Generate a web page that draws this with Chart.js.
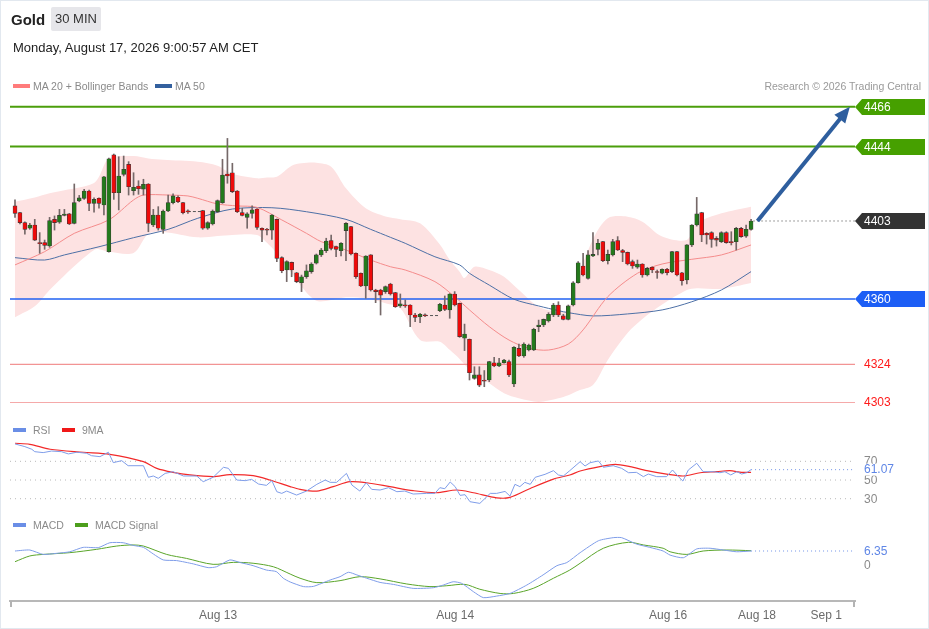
<!DOCTYPE html>
<html>
<head>
<meta charset="utf-8">
<script src="https://cdn.jsdelivr.net/npm/chart.js@4.4.1/dist/chart.umd.min.js"></script>
<style>
  body { margin: 0; background: #fff; font-family: "Liberation Sans", Arial, sans-serif; }
  #wrap { position: relative; width: 929px; height: 629px; overflow: hidden; }
  #frame { position: absolute; left: 0; top: 0; width: 927px; height: 627px; border: 1px solid #e2e8ef; pointer-events: none; }
  #chart { position: absolute; left: 0; top: 0; }
  .t { position: absolute; white-space: nowrap; line-height: 1; }
  .sw { position: absolute; height: 4px; }
  .leg { font-size: 10.5px; color: #8a8a8a; }
</style>
</head>
<body>
<div id="wrap">
  <canvas id="chart" width="929" height="629"></canvas>
  <div class="t" style="left:11px;top:12px;font-size:15px;font-weight:bold;color:#222">Gold</div>
  <div class="t" style="left:51px;top:7px;width:50px;height:24px;line-height:24px;text-align:center;background:#e6e6ea;font-size:13px;color:#333;border-radius:2px">30 MIN</div>
  <div class="t" style="left:13px;top:41px;font-size:13px;color:#222">Monday, August 17, 2026 9:00:57 AM CET</div>

  <div class="sw" style="left:13px;top:84px;width:17px;background:#ff7b7b"></div>
  <div class="t leg" style="left:33px;top:81px">MA 20 + Bollinger Bands</div>
  <div class="sw" style="left:155px;top:84px;width:17px;background:#33609e"></div>
  <div class="t leg" style="left:175px;top:81px">MA 50</div>
  <div class="t leg" style="right:8px;top:81px;color:#9a9a9a">Research © 2026 Trading Central</div>

  <div class="sw" style="left:13px;top:428px;width:13px;background:#6a8ee6"></div>
  <div class="t leg" style="left:33px;top:425px">RSI</div>
  <div class="sw" style="left:62px;top:428px;width:13px;background:#f01818"></div>
  <div class="t leg" style="left:82px;top:425px">9MA</div>

  <div class="sw" style="left:13px;top:523px;width:13px;background:#6a8ee6"></div>
  <div class="t leg" style="left:33px;top:520px">MACD</div>
  <div class="sw" style="left:75px;top:523px;width:13px;background:#4c9e1c"></div>
  <div class="t leg" style="left:95px;top:520px">MACD Signal</div>
  <div id="frame"></div>
</div>
<script>
// --- DATA (30 min candles, slot index = half hour since start) ---
const opens = [4411.3,4407.6,4402.1,4399.0,4400.8,4390.7,4391.1,4389.2,4403.9,4402.3,4406.1,4406.9,4401.7,4414.0,4415.5,4419.5,4412.7,4415.5,4411.8,4386.1,
  4439.4,4418.6,4428.7,4434.2,4419.7,4422.3,4420.6,4423.4,4400.8,4406.3,4398.4,4408.5,4413.1,4416.1,4413.1,4408.5,null,null,4408.7,4399.0,
  4401.4,4408.1,4413.1,4428.9,4429.6,4419.5,4407.6,4405.0,4407.2,4409.6,4399.0,4398.4,4398.0,4403.9,4382.8,4376.0,4380.2,4374.5,4369.0,4372.3,
  4375.1,4379.7,4384.3,4386.6,4392.2,4388.9,4386.6,4397.7,4399.9,4385.2,4374.2,4367.2,4384.3,4365.0,4365.0,4364.1,4368.3,4363.5,4356.2,4356.8,
  4356.7,4351.2,4350.3,4351.2,null,null,4353.6,4356.7,4354.0,4362.8,4357.6,4338.4,4337.8,4316.3,4318.2,4315.4,4315.4,4324.9,4323.1,4324.9,
  4325.5,4313.2,4332.8,4328.6,4331.9,4331.9,4344.8,4345.7,4347.9,4351.2,4356.7,4350.7,4348.8,4356.7,4369.0,4378.2,4371.4,4383.7,4387.4,4391.6,
  4381.1,4384.3,4392.2,4386.7,4385.7,4380.6,4377.5,4379.3,4373.3,4377.5,4375.1,4374.2,4376.4,4375.1,4386.1,4374.5,4370.5,4389.8,4400.8,4407.6,
  4396.2,4396.6,4393.4,4391.6,4396.6,4391.6,4391.6,4398.9,4394.7,4398.4];
const highs = [4414.6,4407.8,4402.6,4401.7,4403.9,4396.6,4392.5,4405.0,4405.8,4409.4,4409.4,4407.2,4423.4,4417.1,4420.5,4420.0,4415.8,4415.8,4427.6,4437.6,
  4439.9,4438.4,4438.8,4435.7,4429.6,4425.2,4426.0,4423.6,4409.4,4410.9,4409.1,4417.3,4417.9,4416.8,4413.3,4409.1,null,null,4408.9,4402.6,
  4409.1,4414.6,4437.0,4448.5,4434.8,4419.8,4410.0,4407.6,4411.3,4409.8,4399.2,4399.0,4406.5,4404.1,4383.3,4381.1,4380.4,4374.7,4373.2,4378.8,
  4380.0,4384.8,4387.9,4393.5,4395.3,4389.2,4391.1,4402.1,4400.1,4385.4,4374.4,4383.9,4384.5,4365.4,4365.4,4367.2,4368.7,4363.7,4362.8,4359.5,
  4356.9,4352.1,4352.1,4351.8,null,null,4357.6,4361.7,4363.0,4364.1,4357.8,4346.2,4338.0,4322.7,4322.7,4320.6,4325.7,4327.9,4327.3,4326.8,
  4326.4,4333.8,4335.2,4335.9,4335.2,4343.9,4348.4,4349.0,4352.5,4357.6,4358.5,4351.6,4356.7,4369.6,4380.6,4385.2,4386.7,4396.6,4392.9,4391.8,
  4387.0,4392.9,4394.4,4387.4,4385.9,4381.5,4381.5,4379.5,4377.5,4377.8,4376.0,4376.6,4376.9,4386.3,4386.3,4374.7,4390.0,4401.0,4416.0,4407.8,
  4396.6,4397.1,4394.4,4397.1,4397.1,4397.1,4399.5,4399.5,4400.8,4403.9];
const lows = [4405.0,4401.4,4395.8,4398.4,4392.2,4385.2,4387.4,4388.5,4398.0,4401.7,4405.8,4401.0,4401.4,4413.6,4414.9,4408.7,4407.8,4410.0,4406.3,4385.8,
  4414.9,4409.1,4427.8,4417.3,4417.3,4417.7,4417.3,4397.1,4399.9,4398.0,4396.2,4408.1,4412.4,4413.1,4406.9,4407.2,null,null,4398.4,4398.4,
  4400.8,4407.6,4412.7,4423.8,4418.6,4407.6,4405.8,4399.0,4404.5,4398.4,4391.6,4395.3,4392.9,4380.6,4374.5,4369.6,4372.3,4369.0,4364.1,4371.4,
  4374.2,4379.3,4383.4,4385.6,4387.0,4383.4,4383.7,4381.1,4384.3,4371.4,4366.8,4360.4,4364.4,4358.0,4351.2,4363.1,4362.2,4355.4,4355.4,4355.4,
  4344.8,4347.5,4347.0,4350.3,null,null,4353.0,4353.6,4349.4,4356.2,4338.9,4331.6,4315.4,4315.8,4311.7,4311.7,4314.5,4322.7,4322.7,4324.6,
  4317.2,4311.7,4328.3,4327.9,4331.4,4331.6,4342.0,4344.8,4347.3,4350.3,4350.3,4348.5,4348.5,4356.2,4368.7,4372.7,4370.9,4383.3,4384.3,4380.6,
  4379.3,4383.7,4386.7,4380.6,4378.8,4376.9,4376.9,4372.0,4372.7,4374.5,4371.4,4373.8,4373.3,4374.5,4372.7,4367.7,4368.3,4388.9,4400.2,4391.6,
  4390.3,4388.5,4389.2,4391.1,4390.7,4389.8,4387.0,4394.0,4394.0,4398.0];
const closes = [4407.2,4402.1,4398.4,4400.8,4392.5,4390.5,4389.6,4403.2,4402.1,4406.1,4406.8,4401.4,4413.1,4415.7,4419.5,4412.7,4414.9,4412.7,4427.4,4437.3,
  4418.6,4427.8,4431.5,4421.9,4421.6,4420.8,4423.2,4401.7,4406.3,4399.0,4408.5,4413.1,4416.8,4413.6,4407.6,4408.0,null,null,4399.0,4402.1,
  4408.5,4414.2,4428.3,4427.8,4419.2,4408.1,4406.1,4406.9,4409.1,4399.5,4398.0,4397.9,4406.3,4382.4,4375.6,4380.6,4376.0,4369.6,4372.3,4375.6,
  4379.3,4384.3,4387.0,4392.0,4387.9,4387.4,4390.7,4401.7,4384.8,4372.3,4367.2,4383.7,4365.0,4364.1,4362.2,4366.8,4362.8,4355.8,4357.3,4356.2,
  4351.2,4349.9,4351.6,4350.8,null,null,4357.1,4354.3,4362.8,4356.7,4339.3,4340.7,4319.4,4318.2,4312.6,4314.8,4325.5,4323.1,4324.9,4326.4,
  4318.2,4333.4,4328.6,4335.2,4334.7,4343.3,4345.7,4348.8,4351.6,4356.7,4351.2,4348.8,4356.2,4369.0,4380.0,4373.3,4384.3,4384.6,4390.7,4381.1,
  4384.6,4391.6,4387.0,4385.7,4379.3,4378.2,4379.3,4373.3,4376.9,4376.0,4374.6,4376.4,4374.5,4386.1,4373.3,4370.1,4389.8,4400.8,4406.9,4395.3,
  4395.3,4392.9,4392.5,4396.6,4391.1,4391.1,4398.9,4394.4,4398.4,4403.0];

// session breaks drawn as dashed connectors
const gapFrom = [35, 83];
const gapTo = [38, 86];
const gapPrice = [4408.2, 4350.9];

// Bollinger bands (20) read at sample slots
const bbSlots = [0,4,7,10,13,16,17,19,24,27,30,37,41,44,49,51,53,56,58,61,64,67,71,75,78,82,86,88,90,91,93,96,99,102,106,110,112,114,117,120,124,127,131,136,138,143,149];
const bbUpper = [4413.6,4416,4418.3,4420,4421.5,4424,4427.4,4437.5,4438.8,4437.5,4436.8,4435.7,4433.5,4429,4426.5,4427,4427.4,4433.5,4434.8,4435.1,4432.9,4421,4410,4405.5,4404,4401.7,4390,4381.5,4375.1,4371.6,4377.8,4376,4372.3,4365,4355.8,4353,4354,4372,4393,4404.5,4405.4,4402.6,4394.4,4392.5,4401.7,4407.2,4410.9];
const bbLower = [4350,4356,4365,4373,4380.5,4387,4387.5,4386,4385.4,4396,4397,4394,4394.8,4395.3,4395.3,4391,4385.2,4374.2,4366.8,4359,4359.5,4361,4360.4,4357.7,4354.9,4337.4,4336.5,4332,4327,4324,4318.5,4313.6,4308.1,4305.3,4303.3,4305.3,4307,4309.5,4312.6,4326.4,4341.3,4349,4357,4365,4366,4365.6,4368.8];

const ma20Slots = [0,6,12,19,24,26,31,35,37,41,45,49,54,59,62,67,72,76,79,85,89,92,96,100,104,108,112,115,120,126,131,137,143,149];
const ma20 = [4378.8,4386.1,4396.2,4403.6,4414.6,4417.3,4417.3,4416.8,4415.5,4412.4,4411.3,4410.5,4403.6,4396.2,4391.6,4387.0,4381.5,4377.8,4376,4369.6,4361.3,4354.0,4344.8,4337.4,4332.9,4331.9,4335.2,4343.0,4361.3,4374.2,4379.3,4381.9,4384.3,4389.8];
const ma50Slots = [0,6,10,17,24,31,37,44,52,59,67,72,76,79,85,90,92,96,101,106,110,112,117,124,131,137,143,149];
const ma50 = [4382.8,4381.5,4384.3,4388.8,4393.8,4398.4,4404.5,4409.6,4410.3,4408.1,4403.9,4398.4,4394.0,4390.7,4383.3,4378.8,4374.2,4367.7,4359.9,4356.2,4353.6,4352.5,4350.7,4351.8,4354.0,4358.5,4365.0,4375.1];

// key levels and target
const levels = [4466, 4444, 4360, 4324, 4303];
const lastPrice = 4403;
const arrowFrom = [150.3, 4403];
const arrowTo = [169, 4466];

// RSI (14) and its 9 period average
const rsiSlots = [0,2,3.4,4,5.7,7.4,9.4,10.8,12.5,14.5,15.5,17.2,18.9,19.9,21.6,22.9,26,27,28,29,30.4,32,34.1,36.8,38.1,40.1,42.2,43.2,44.9,46.6,47.9,49.3,50.9,52,53,54,55,57,59,61.1,62.8,63.8,65.1,67.1,68.2,69.8,71.1,72.2,73.9,75.6,77.3,78.9,80.6,83.3,85,86,87,88.1,89.1,90.1,91.1,92.1,94.1,96.2,97.5,99.2,100.2,101.2,102.2,103.2,104.3,105.3,107.3,109,110,111,112.3,114.4,115.4,116.4,118.1,119.1,121.1,122.8,124.2,125.8,127.2,128.2,129.9,131.9,133.1,134.3,135.2,136.3,138,139.3,141.4,142.7,143.7,144.9,146.1,147.1,148.1,149];
const rsi = [88.6,85.7,82.9,80.3,79.3,81,80.3,77.9,79.7,78.6,76,75,79.7,68.6,70.7,65.3,65.3,52.9,54.3,51.8,57.1,58.9,54.3,54.3,48.2,52.9,63.6,62.5,50,49.3,50.7,45.7,44.3,49.3,37.5,35.7,38.2,33.9,38.2,45.4,50,47.5,47.5,57.1,44.6,38.2,47.1,40,39.3,41.8,37.5,38.2,35,35.7,35.7,41.8,40.7,47.9,42.9,33.6,34.3,26.8,25,35.7,35.7,37.8,32.8,45.4,42.9,47.5,45.4,52.9,56.1,60,55.4,54.3,60,69.6,65,68.5,70.4,63.6,65.3,62.5,57.8,58.2,53.6,56.4,53.6,53.6,60.7,53.6,48.9,60.7,67.9,58.9,58.9,57.8,58.9,55.4,58.9,56.4,57.8,61.07];
const rsiMaSlots = [0,3,7.1,13.8,19.2,26,28.7,32,35.4,40.1,43.5,48.2,51.6,55.7,57.7,61.1,64.4,67.8,71.2,75.9,80.6,85.3,89.4,92.8,97.5,100.2,104.3,109,112.3,114.4,118.4,121.5,124.5,127.9,131.9,135.3,138.7,142,144.7,147.1,149];
const rsiMa = [89.3,88.2,82.9,79.7,77.5,69.6,62.5,58.2,55.4,53.6,55.7,54.6,50,42.9,40,38.2,42.9,48.2,47.1,42.9,38.6,36.4,39.3,36.4,31,31.4,41,51,55.4,59.6,64.3,66.8,64.3,60,56.4,54.3,57.8,58.9,60,58.2,58.2];
const rsiGuides = [70, 50, 30];

// MACD (12,26,9)
const macdSlots = [0,3,5.7,8.4,11.1,13.8,16.9,19.2,21.9,23.9,26,28,30,32.7,36.1,39.1,40.8,43.5,45.6,48.2,50.9,52.9,54.3,55.7,58.4,60.4,63.8,65.8,67.5,69.2,71.2,73.9,76.6,80.6,84.7,86.7,88.7,90.4,92.8,94.8,97.5,100.2,103.6,106.9,109.7,111.7,114.4,118.1,121.1,122.8,125.8,128.5,131.2,132.6,135.3,138,140.7,143.4,146.1,149];
const macd = [6.35,6.8,4.8,5.3,6.0,8.0,7.9,10.1,10.1,8.9,8.0,5.0,2.3,2.0,0.5,-1.2,-0.8,2.3,1.1,-0.3,-2.3,-3.0,-6.0,-7.7,-9.8,-9.7,-6.8,-5.3,-3.3,-4.5,-6.0,-7.9,-8.8,-10.6,-10.3,-9.1,-7.6,-8.3,-12.1,-14.8,-14.1,-12.9,-9.1,-4.5,-0.3,1.1,5.6,11.0,12.4,12.4,9.5,8.0,6.35,4.5,3.3,7.3,7.6,6.8,6.0,6.35];
const signalSlots = [0,3,5.7,11.1,16.5,20.6,23.9,26,30.7,34.7,40.1,44.2,48.2,52.3,55.7,57.7,61.1,65.8,69.8,73.9,79.3,84,87.4,91.1,94.1,98.2,100.9,104.9,109,112.3,114.4,119.1,124.2,127.2,131.2,132.6,136,139.3,144.1,149];
const signal = [1.5,4.1,4.8,5.6,7.1,8.6,9.1,8.6,4.8,3.0,0.3,1.2,0.8,-0.8,-4.1,-6.0,-8.0,-7.1,-5.3,-6.3,-8.6,-9.8,-9.4,-8.8,-11.0,-12.9,-12.9,-10.6,-6.0,-2.3,0.8,7.6,10.3,9.1,7.6,6.0,4.8,6.35,6.8,6.5];
const lastRsi = 61.07;
const lastMacd = 6.35;

// x axis labels (slot position of each date)
const tickPos = [41.1, 89.1, 132.2, 150.2, 164.2];
const tickLabels = ['Aug 13', 'Aug 14', 'Aug 16', 'Aug 18', 'Sep 1'];

// --- SCALE RANGES (plot area 10..855 x 95..601) ---
const X_MIN = -1.012, X_MAX = 170.04;
const P_MIN = 4193.63, P_MAX = 4472.42;
const R_MIN = -79.4, R_MAX = 461.8;
const M_MIN = -16.33, M_MAX = 213.2;

const pts = (xs, ys) => xs.map((x, i) => ({ x: x, y: ys[i] }));
const flat = (y, from) => [{ x: from, y: y }, { x: X_MAX, y: y }];

const slots = opens.map((o, i) => i).filter(i => opens[i] !== null);
const isUp = i => closes[i] >= opens[i];

function lineDs(data, axis, color, width, extra) {
    return Object.assign({ type: 'line', data: data, yAxisID: axis, borderColor: color, borderWidth: width, pointRadius: 0, fill: false, tension: 0 }, extra || {});
}

const levelStyles = [
    { c: '#4b9e0b', w: 2 }, { c: '#4b9e0b', w: 2 }, { c: '#2162f2', w: 1.5 }, { c: '#f29494', w: 1.2 }, { c: '#f5a9a9', w: 1.2 }
];

const datasets = [
    lineDs(pts(bbSlots, bbUpper), 'yP', 'rgba(0,0,0,0)', 0, { fill: '+1', backgroundColor: '#fde2e2', tension: 0.3, order: 30 }),
    lineDs(pts(bbSlots, bbLower), 'yP', 'rgba(0,0,0,0)', 0, { tension: 0.3, order: 31 }),
    lineDs(pts(ma20Slots, ma20), 'yP', '#f58c8c', 1, { tension: 0.3, order: 10 }),
    lineDs(pts(ma50Slots, ma50), 'yP', '#4d70a6', 1, { tension: 0.3, order: 10 })
];
levels.forEach((lv, k) => {
    datasets.push(lineDs(flat(lv, X_MIN), 'yP', levelStyles[k].c, levelStyles[k].w, { order: 12 }));
});
gapFrom.forEach((g, k) => {
    datasets.push(lineDs([{ x: g, y: gapPrice[k] }, { x: gapTo[k], y: gapPrice[k] }], 'yP', '#555', 1, { borderDash: [3, 2], order: 5 }));
});
datasets.push(lineDs(flat(lastPrice, 149.5), 'yP', '#444', 1, { borderDash: [1, 3], order: 5 }));

// candles: wick + body as floating bars
datasets.push({
    type: 'bar', yAxisID: 'yP', order: 2, grouped: false, barThickness: 1,
    data: slots.map(i => ({ x: i, y: [lows[i], highs[i]] })),
    backgroundColor: '#756868'
});
datasets.push({
    type: 'bar', yAxisID: 'yP', order: 1, grouped: false, barThickness: 4, minBarLength: 1,
    data: slots.map(i => ({ x: i, y: [opens[i], closes[i]] })),
    backgroundColor: slots.map(i => isUp(i) ? '#237a1c' : '#ee0a0a'),
    borderColor: '#3d3535', borderWidth: 0.6, borderSkipped: false
});

// RSI panel
rsiGuides.forEach(g => datasets.push(lineDs(flat(g, X_MIN), 'yR', '#b9b9b9', 1, { borderDash: [1, 4], order: 8 })));
datasets.push(lineDs(flat(lastRsi, 149), 'yR', '#7394e8', 1, { borderDash: [1, 3], order: 8 }));
datasets.push(lineDs(pts(rsiMaSlots, rsiMa), 'yR', '#f22a2a', 1.2, { tension: 0.3, order: 7 }));
datasets.push(lineDs(pts(rsiSlots, rsi), 'yR', '#7f9de9', 1, { order: 6 }));

// MACD panel
datasets.push(lineDs(flat(lastMacd, 149), 'yM', '#7394e8', 1, { borderDash: [1, 3], order: 8 }));
datasets.push(lineDs(pts(signalSlots, signal), 'yM', '#5aa52a', 1, { tension: 0.3, order: 7 }));
datasets.push(lineDs(pts(macdSlots, macd), 'yM', '#7f9de9', 1, { tension: 0.2, order: 6 }));

// --- OVERLAY: arrow, price tags, panel values, axis end ticks ---
const overlay = {
    id: 'overlay',
    afterDraw(chart) {
        const ctx = chart.ctx;
        const x = chart.scales.x, yP = chart.scales.yP, yR = chart.scales.yR, yM = chart.scales.yM;
        const area = chart.chartArea;
        ctx.save();

        // small ticks at both ends of the time axis
        ctx.strokeStyle = '#b3b3b3'; ctx.lineWidth = 2;
        [x.getPixelForValue(X_MIN) + 1, x.getPixelForValue(X_MAX) - 1].forEach(px => {
            ctx.beginPath(); ctx.moveTo(px, area.bottom); ctx.lineTo(px, area.bottom + 6); ctx.stroke();
        });

        // target arrow
        const x1 = x.getPixelForValue(arrowFrom[0]), y1 = yP.getPixelForValue(arrowFrom[1]);
        const x2 = x.getPixelForValue(arrowTo[0]), y2 = yP.getPixelForValue(arrowTo[1]);
        const ang = Math.atan2(y2 - y1, x2 - x1);
        ctx.strokeStyle = '#2e5e9e'; ctx.fillStyle = '#2e5e9e'; ctx.lineWidth = 4;
        ctx.beginPath(); ctx.moveTo(x1, y1);
        ctx.lineTo(x2 - 10 * Math.cos(ang), y2 - 10 * Math.sin(ang)); ctx.stroke();
        ctx.beginPath(); ctx.moveTo(x2, y2);
        ctx.lineTo(x2 - 16 * Math.cos(ang) + 7 * Math.sin(ang), y2 - 16 * Math.sin(ang) - 7 * Math.cos(ang));
        ctx.lineTo(x2 - 16 * Math.cos(ang) - 7 * Math.sin(ang), y2 - 16 * Math.sin(ang) + 7 * Math.cos(ang));
        ctx.closePath(); ctx.fill();

        // price tags
        const right = area.right;
        const tags = [[levels[0], '#46a000'], [levels[1], '#46a000'], [lastPrice, '#333333'], [levels[2], '#1c5ef5']];
        ctx.font = '12px "Liberation Sans", Arial, sans-serif';
        ctx.textBaseline = 'middle';
        tags.forEach(t => {
            const y = Math.round(yP.getPixelForValue(t[0]));
            ctx.fillStyle = t[1];
            ctx.beginPath();
            ctx.moveTo(right, y); ctx.lineTo(right + 7, y - 8); ctx.lineTo(925, y - 8);
            ctx.lineTo(925, y + 8); ctx.lineTo(right + 7, y + 8); ctx.closePath(); ctx.fill();
            ctx.fillStyle = '#fff';
            ctx.fillText(String(t[0]), right + 9, y + 0.5);
        });
        ctx.fillStyle = '#ff1a1a';
        [levels[3], levels[4]].forEach(v => ctx.fillText(String(v), right + 9, yP.getPixelForValue(v) + 0.5));

        // RSI / MACD values
        ctx.fillStyle = '#8a8a8a';
        rsiGuides.forEach(g => ctx.fillText(String(g), right + 9, yR.getPixelForValue(g) + 0.5));
        const yr = yR.getPixelForValue(lastRsi);
        ctx.fillStyle = '#fff'; ctx.fillRect(right + 6, yr - 6, 44, 12);
        ctx.fillStyle = '#5f86e6'; ctx.fillText(lastRsi.toFixed(2), right + 9, yr + 0.5);
        ctx.fillStyle = '#8a8a8a'; ctx.fillText('0', right + 9, yM.getPixelForValue(0) + 0.5);
        ctx.fillStyle = '#5f86e6'; ctx.fillText(lastMacd.toFixed(2), right + 9, yM.getPixelForValue(lastMacd) + 0.5);
        ctx.restore();
    }
};

const chart = new Chart(document.getElementById('chart').getContext('2d'), {
    type: 'line',
    data: { datasets: datasets },
    options: {
        responsive: false,
        animation: false,
        events: [],
        layout: { padding: { left: 10, right: 74, top: 95, bottom: 0 } },
        plugins: { legend: { display: false }, tooltip: { enabled: false } },
        scales: {
            x: {
                type: 'linear', min: X_MIN, max: X_MAX, offset: false,
                afterBuildTicks: axis => { axis.ticks = tickPos.map(v => ({ value: v })); },
                afterFit: axis => { axis.height = 28; },
                ticks: {
                    autoSkip: false, maxRotation: 0, minRotation: 0, padding: 2, color: '#6b6b6b',
                    font: { family: '"Liberation Sans", Arial, sans-serif', size: 12 },
                    callback: v => { const k = tickPos.indexOf(v); return k >= 0 ? tickLabels[k] : ''; }
                },
                grid: { drawOnChartArea: false, tickLength: 5, color: 'rgba(0,0,0,0)' },
                border: { display: true, color: '#b8b8b8', width: 2 }
            },
            yP: { type: 'linear', display: false, min: P_MIN, max: P_MAX },
            yR: { type: 'linear', display: false, min: R_MIN, max: R_MAX },
            yM: { type: 'linear', display: false, min: M_MIN, max: M_MAX }
        }
    },
    plugins: [overlay]
});
</script>
</body>
</html>
